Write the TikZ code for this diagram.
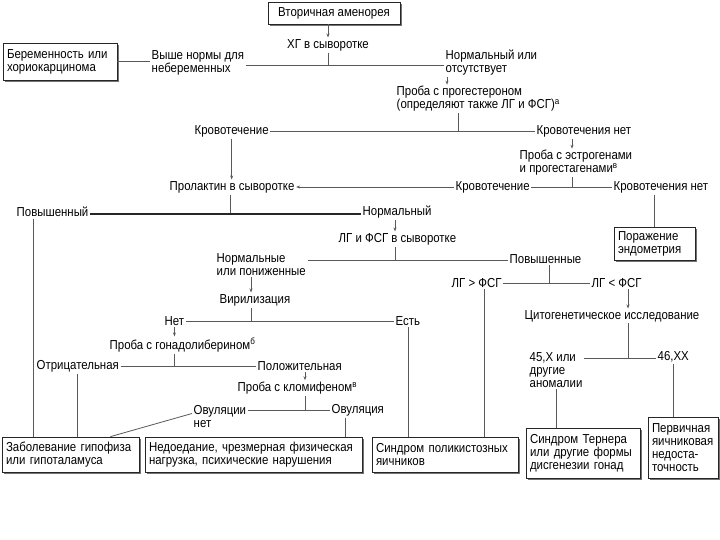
\documentclass[tikz,border=0pt]{standalone}
\usepackage{fontspec}
\setmainfont{Liberation Sans}[FakeStretch=0.88]
\usetikzlibrary{arrows.meta,shadows,calc}
\begin{document}
\begin{tikzpicture}[x=1pt,y=-1pt,
  every node/.style={font=\fontsize{13}{13}\selectfont, inner sep=1.5pt, text=black},
  lbl/.style={anchor=west, align=left},
  box/.style={draw=black!85, line width=0.7pt, fill=white, align=left, inner sep=4pt,
    drop shadow={shadow xshift=1.6pt, shadow yshift=-1.6pt, fill=black!55, opacity=1}},
  ln/.style={draw=black!65, line width=0.8pt},
  thickln/.style={draw=black!85, line width=2pt},
  arr/.style={ln, -{Stealth[length=4pt,width=3pt]}},
]
\useasboundingbox (0,0) rectangle (720,540);
\fill[white] (0,0) rectangle (720,540);

% boxes
\node[box, align=center, minimum width=132, minimum height=22] (start) at (334,13) {Вторичная аменорея};
\node[box, text width=106, minimum height=37] (preg) at (60,61.5) {Беременность или\\хориокарцинома};
\node[box, text width=73, minimum height=33] (endo) at (654.5,243.5) {Поражение\\эндометрия};
\node[box, text width=129, minimum height=35] (hyp) at (70.5,454.5) {Заболевание гипофиза\\или гипоталамуса};
\node[box, text width=209, minimum height=35] (nut) at (253.5,454.5) {Недоедание, чрезмерная физическая\\нагрузка, психические нарушения};
\node[box, text width=138, minimum height=35] (pco) at (445,454.5) {Синдром поликистозных\\яичников};
\node[box, text width=106, minimum height=50] (ter) at (583,453) {Синдром Тернера\\или другие формы\\дисгенезии гонад};
\node[box, text width=62, minimum height=61] (prim) at (683,447.5) {Первичная\\яичниковая\\недоста-\\точность};

% labels
\node (hg) at (328,45) {ХГ в сыворотке};
\node[lbl] (above) at (150,63) {Выше нормы для\\небеременных};
\node[lbl] (norm) at (444,63) {Нормальный или\\отсутствует};
\node[lbl] (prog) at (395,99) {Проба с прогестероном\\(определяют также ЛГ и ФСГ)\textsuperscript{а}};
\node[lbl] (bl1) at (193,131) {Кровотечение};
\node[lbl] (nb1) at (535,131) {Кровотечения нет};
\node[lbl] (estr) at (518,163) {Проба с эстрогенами\\и прогестагенами\textsuperscript{в}};
\node[lbl] (bl2) at (454,187) {Кровотечение};
\node[lbl] (nb2) at (612,187) {Кровотечения нет};
\node[lbl] (prol) at (168,187) {Пролактин в сыворотке};
\node[lbl] (high) at (15,212) {Повышенный};
\node[lbl] (normal) at (361,212) {Нормальный};
\node[lbl] (lhfsh) at (337,239) {ЛГ и ФСГ в сыворотке};
\node[lbl] (nlow) at (215,264.5) {Нормальные\\или пониженные};
\node[lbl] (rise) at (508,259) {Повышенные};
\node[lbl] (lgt) at (450,283) {ЛГ > ФСГ};
\node[lbl] (llt) at (590,283) {ЛГ < ФСГ};
\node[lbl] (cyto) at (523,316) {Цитогенетическое исследование};
\node[lbl] (x45) at (528,370) {45,Х или\\другие\\аномалии};
\node[lbl] (xx) at (656,357) {46,ХХ};
\node[lbl] (vir) at (218,300) {Вирилизация};
\node[lbl] (no) at (163,321) {Нет};
\node[lbl] (yes) at (394,321) {Есть};
\node[lbl] (gnrh) at (108,345) {Проба с гонадолиберином\textsuperscript{б}};
\node[lbl] (neg) at (35,366) {Отрицательная};
\node[lbl] (pos) at (256,366) {Положительная};
\node[lbl] (clom) at (236,388) {Проба с кломифеном\textsuperscript{в}};
\node[lbl] (noov) at (192,416.5) {Овуляции\\нет};
\node[lbl] (ov) at (330,410) {Овуляция};

% junctions
\coordinate (j1) at (328,65);
\coordinate (jA) at (447,0);
\coordinate (j2) at (458,131);
\coordinate (jE) at (572,187);
\coordinate (jP) at (230,214);
\coordinate (jL) at (395,260);
\coordinate (jR) at (549,283);
\coordinate (jC) at (628,358);
\coordinate (jG) at (484,437);
\coordinate (jH) at (33,437);
\coordinate (jV) at (251,321);
\coordinate (jG2) at (174,366);
\coordinate (jK) at (305,410);
\coordinate (jO) at (345,437);

% connectors
\draw[arr] (start.south -| hg.north) -- (hg.north);
\draw[ln] (hg.south -| j1) -- (j1);
\draw[ln] (above.east |- j1) -- (norm.west |- j1);
\draw[ln] (preg.east) -- (above.west |- preg.east);
\draw[arr] (norm.south -| jA) -- (prog.north -| jA);
\draw[ln] (prog.south -| j2) -- (j2);
\draw[ln] (bl1.east) -- (nb1.west);
\draw[arr] (bl1.south) -- (bl1.south |- prol.north);
\draw[arr] (nb1.south -| jE) -- (estr.north -| jE);
\draw[ln] (estr.south -| jE) -- (jE);
\draw[ln] (bl2.east) -- (nb2.west);
\draw[arr] (bl2.west) -- (prol.east);
\draw[ln] (nb2.south -| endo.north) -- (endo.north);
\draw[ln] (prol.south -| jP) -- (jP);
\draw[thickln] (high.east |- jP) -- (normal.west |- jP);
\draw[ln] (high.south -| jH) -- (jH);
\draw[arr] (normal.south -| jL) -- (lhfsh.north -| jL);
\draw[ln] (lhfsh.south -| jL) -- (jL);
\draw[ln] (nlow.east |- jL) -- (rise.west |- jL);
\draw[ln] (rise.south -| jR) -- (jR);
\draw[ln] (lgt.east) -- (llt.west);
\draw[ln] (lgt.south -| jG) -- (jG);
\draw[arr] (llt.south -| jC) -- (cyto.north -| jC);
\draw[ln] (cyto.south -| jC) -- (jC);
\draw[ln] (x45.east |- jC) -- (xx.west |- jC);
\draw[ln] (x45.south) -- (x45.south |- ter.north);
\draw[ln] (xx.south) -- (xx.south |- prim.north);
\draw[arr] (nlow.south -| jV) -- (vir.north -| jV);
\draw[ln] (vir.south -| jV) -- (jV);
\draw[ln] (no.east) -- (yes.west);
\draw[ln] (yes.south) -- (yes.south |- pco.north);
\draw[arr] (no.south) -- (no.south |- gnrh.north);
\draw[ln] (gnrh.south -| jG2) -- (jG2);
\draw[ln] (neg.east) -- (pos.west);
\draw[ln] (neg.south) -- (neg.south |- hyp.north);
\draw[arr] (pos.south -| jK) -- (clom.north -| jK);
\draw[ln] (clom.south -| jK) -- (jK);
\draw[ln] (noov.east |- jK) -- (ov.west);
\draw[ln] ([yshift=3pt]noov.west) -- ([xshift=-29pt]hyp.north east);
\draw[ln] (ov.south -| jO) -- (jO);
\end{tikzpicture}
\end{document}
